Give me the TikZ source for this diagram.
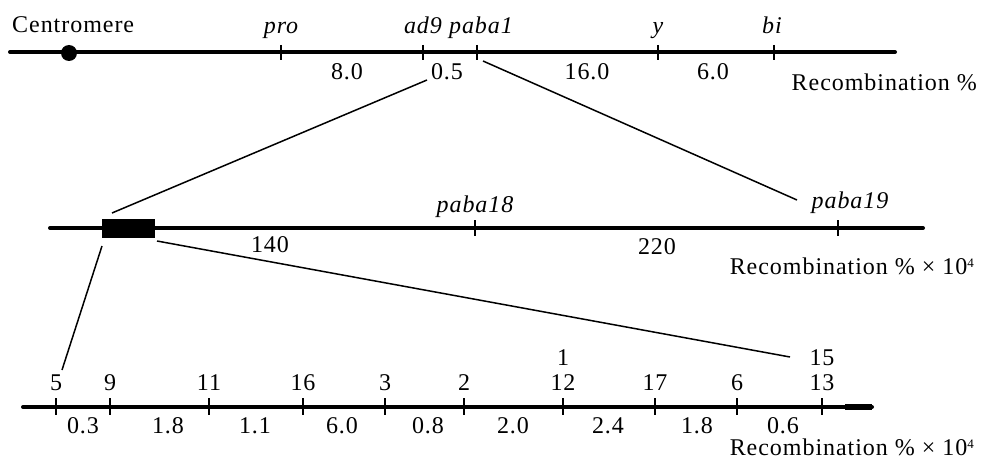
\documentclass[tikz,border=0pt]{standalone}
\usepackage{fontspec}
\setmainfont{Liberation Serif}[LetterSpace=4]
\usetikzlibrary{positioning}

\newcommand{\tenfour}{10\raisebox{0.55ex}{\fontsize{13}{13}\selectfont 4}}
\tikzset{
  txt/.style={font=\fontsize{24}{28}\selectfont, inner sep=0pt, anchor=base},
  gene/.style={txt, font=\fontsize{24}{28}\selectfont\itshape},
  chrom/.style={line width=4pt, line cap=round},
  tickmark/.style={line width=2.8pt},
  zoomline/.style={line width=1.5pt}
}

\begin{document}
\begin{tikzpicture}[x=1pt,y=-1pt]
\useasboundingbox (0,0) rectangle (982,460);
% top map (recombination %)
\draw[chrom] (10,52) -- (895,52);
\node[circle,fill=black,minimum size=16pt,inner sep=0pt] (cen) at (69,53) {};
\node[txt,anchor=base west] (centro) at (12,33) {Centromere};
\foreach \x/\g in {281/pro,423/ad9,477/paba1,658/y,774/bi}{
  \draw[tickmark] (\x,45) -- (\x,60);
}
\node[gene] (gpro) at (281,34) {pro};
\node[gene] (gad)  at (423,34) {ad9};
\node[gene] (gp1)  at (481,34) {paba1};
\node[gene] (gy)   at (658,34) {y};
\node[gene] (gbi)  at (772,34) {bi};
\node[txt] (d80)  at (347,80) {8.0};
\node[txt] (d05)  at (447,80) {0.5};
\node[txt] (d160) at (587,80) {16.0};
\node[txt] (d60)  at (713,80) {6.0};
\node[txt,anchor=base east] (rtop) at (977,90) {Recombination \%};
% middle map (paba region)
\draw[chrom] (50,228) -- (923,228);
\node[fill=black,minimum width=53pt,minimum height=19pt,inner sep=0pt] (blk) at (128.5,228.5) {};
\draw[tickmark] (475,220) -- (475,236);
\draw[tickmark] (838,220) -- (838,236);
\node[gene] (g18) at (475,212) {paba18};
\node[gene] (g19) at (850,208) {paba19};
\node[txt] (d140) at (270,252) {140};
\node[txt] (d220) at (657,254) {220};
\node[txt,anchor=base east] (rmid) at (974,274) {Recombination \% × \tenfour};
% bottom map (alleles within the block)
\draw[chrom] (23,407) -- (872,407);
\draw[line width=6pt] (845,407) -- (872,407);
\foreach \x/\n in {56/5,110/9,209/11,303/16,385/3,464/2,563/12,655/17,737/6,822/13}{
  \draw[tickmark] (\x,398) -- (\x,415);
  \node[txt] (a\n) at (\x,390) {\n};
}
\node[txt] (a1)  at (563,365) {1};
\node[txt] (a15) at (822,365) {15};
\foreach \x/\d [count=\i] in {83/0.3,168/1.8,255/1.1,342/6.0,428/0.8,513/2.0,608/2.4,697/1.8,783/0.6}{
  \node[txt] (s\i) at (\x,433) {\d};
}
\node[txt,anchor=base east] (rbot) at (974,455) {Recombination \% × \tenfour};
% expansion lines
\coordinate (upL) at (427,80);
\coordinate (upR) at (483,61);
\coordinate (boxTL) at (112,213);
\coordinate (p19top) at (797,200);
\coordinate (boxBL) at (102,246);
\coordinate (boxBR) at (157,241);
\coordinate (endL) at (62,370);
\coordinate (endR) at (790,357);
\draw[zoomline] (upL) -- (boxTL);
\draw[zoomline] (upR) -- (p19top);
\draw[zoomline] (boxBL) -- (endL);
\draw[zoomline] (boxBR) -- (endR);
\end{tikzpicture}
\end{document}
